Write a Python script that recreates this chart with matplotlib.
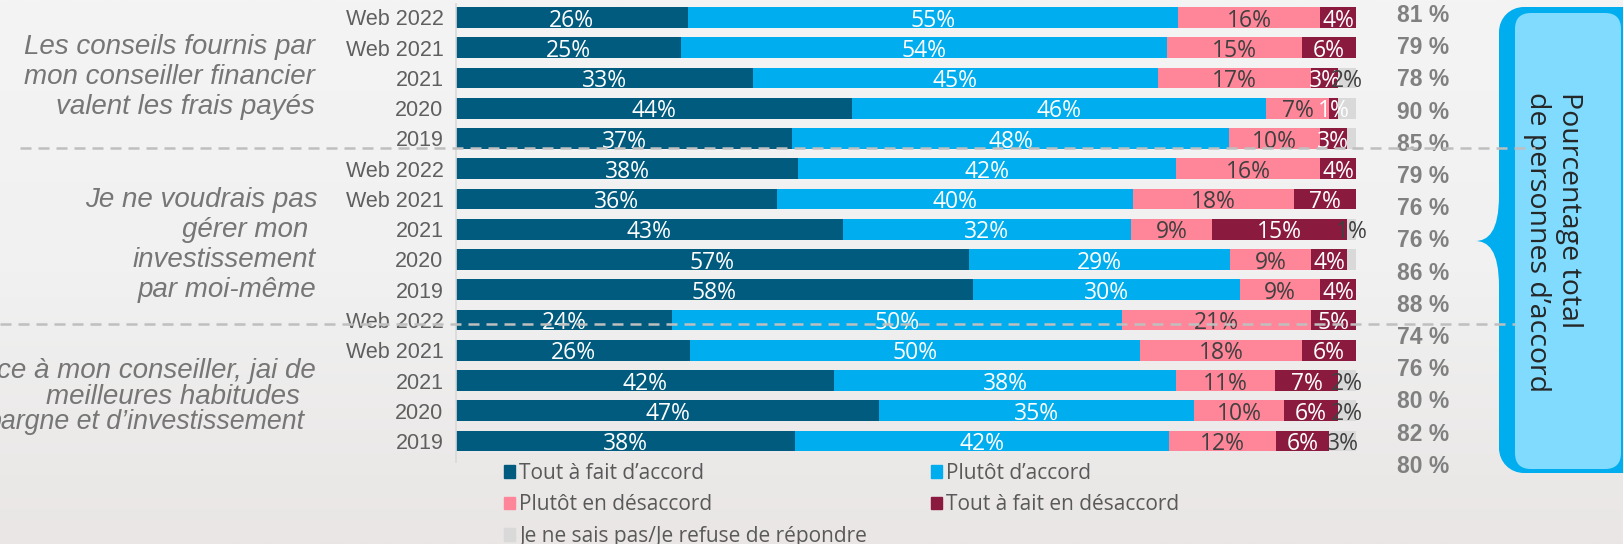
import numpy as np
import matplotlib
matplotlib.use("Agg")
import matplotlib.pyplot as plt
import matplotlib.transforms as mt
from matplotlib.path import Path
from matplotlib.patches import PathPatch, FancyBboxPatch, Patch
from matplotlib.lines import Line2D
from matplotlib.colors import LinearSegmentedColormap

# ---------------- data ----------------
periods = ["Web 2022", "Web 2021", "2021", "2020", "2019"] * 3
tout_accord = [26, 25, 33, 44, 37, 38, 36, 43, 57, 58, 24, 26, 42, 47, 38]
plutot_accord = [55, 54, 45, 46, 48, 42, 40, 32, 29, 30, 50, 50, 38, 35, 42]
plutot_desaccord = [16, 15, 17, 7, 10, 16, 18, 9, 9, 9, 21, 18, 11, 10, 12]
tout_desaccord = [4, 6, 3, 1, 3, 4, 7, 15, 4, 4, 5, 6, 7, 6, 6]
ne_sait_pas = [0, 0, 2, 2, 1, 0, 0, 1, 1, 0, 0, 0, 2, 2, 3]
nsp_label_shown = [False, False, True, False, False, False, False, True, False, False,
                   False, False, True, True, True]
totals = [81, 79, 78, 90, 85, 79, 76, 76, 86, 88, 74, 76, 80, 82, 80]

series_names = ["Tout à fait d’accord", "Plutôt d’accord", "Plutôt en désaccord",
                "Tout à fait en désaccord", "Je ne sais pas/Je refuse de répondre"]
series_colors = ["#005B7F", "#00AEEF", "#FF8599", "#8B1A3F", "#D9D9D9"]
label_colors = ["white", "white", "#404040", "white", "#404040"]

group_labels = [
    ["Les conseils fournis par", "mon conseiller financier", "valent les frais payés"],
    ["Je ne voudrais pas", "gérer mon ", "investissement", "par moi-même"],
    ["ce à mon conseiller, jai de", "meilleures habitudes", "pargne et d’investissement"],
]
callout_text = "Pourcentage total\nde personnes d’accord"

# ---------------- figure ----------------
W, H = 1624, 544
fig = plt.figure(figsize=(W / 100, H / 100), dpi=100)
px = mt.Affine2D().scale(1 / W, -1 / H).translate(0, 1) + fig.transFigure

# background gradient
bg = fig.add_axes([0, 0, 1, 1], zorder=-5)
cmap = LinearSegmentedColormap.from_list("bg", ["#f4f4f4", "#f1f1f1", "#e9e6e5"])
bg.imshow(np.linspace(0, 1, 256)[:, None], aspect="auto", cmap=cmap,
          extent=[0, 1, 0, 1])
bg.axis("off")

ax = fig.add_axes([456 / W, 1 - 462 / H, 900 / W, 458 / H])
ax.set_facecolor("none")

data = np.array([tout_accord, plutot_accord, plutot_desaccord, tout_desaccord,
                 ne_sait_pas], dtype=float)
norm = data / data.sum(axis=0) * 100
y = np.arange(len(periods))
left = np.zeros(len(periods))
for k in range(data.shape[0]):
    ax.barh(y, norm[k], left=left, height=0.69, color=series_colors[k],
            label=series_names[k], zorder=2)
    for i in range(len(periods)):
        v = data[k, i]
        if v <= 0:
            continue
        if k == 4 and not nsp_label_shown[i]:
            continue
        ax.text(left[i] + norm[k, i] / 2, y[i] + 0.1, f"{int(v)}%",
                ha="center", va="center", fontsize=16.5, family="Open Sans",
                color=label_colors[k], zorder=3)
    left += norm[k]

ax.set_xlim(0, 100)
ax.set_ylim(len(periods) - 1 + 0.694, -0.446)
ax.set_xticks([])
ax.set_yticks(y)
ax.set_yticklabels(periods, family="Liberation Sans", fontsize=15.5, color="#5f5f5f")
ax.tick_params(axis="y", length=0, pad=9)
for s in ["top", "right", "bottom"]:
    ax.spines[s].set_visible(False)
ax.spines["left"].set_color("#d9d9d9")
ax.spines["left"].set_linewidth(1.2)

# group labels (left): (right edge x, centre y, font size) in pixels
group_pos = [
    [(315, 47, 20), (315, 77, 20), (315, 107, 20)],
    [(318, 200, 20), (316, 230, 20), (316, 260, 20), (316, 290, 20)],
    [(316, 371, 20), (300, 397, 20), (305, 422, 19.3)],
]
for lines, pos in zip(group_labels, group_pos):
    for t, (xr, yy, fs) in zip(lines, pos):
        fig.text(xr, yy, t, transform=px, ha="right", va="center",
                 family="Liberation Sans", style="italic", fontsize=fs,
                 color="#767676")

# totals (right)
for i, t in enumerate(totals):
    fig.text(1397, 15.5 + i * 32.2, f"{t} %", transform=px, ha="left",
             va="center", family="Liberation Sans", weight="bold",
             fontsize=16.5, color="#808080")

# legend (two columns)
handles = [Patch(color=c) for c in series_colors]
leg_kw = dict(frameon=False, loc="upper left", borderpad=0, borderaxespad=0,
              handlelength=0.53, handleheight=0.53, handletextpad=0.2,
              labelspacing=0.5, prop={"family": "Open Sans", "size": 15},
              labelcolor="#595959")
leg1 = fig.legend([handles[0], handles[2], handles[4]],
                  [series_names[0], series_names[2], series_names[4]],
                  bbox_to_anchor=(504 / W, 1 - 463 / H), **leg_kw)
leg2 = fig.legend([handles[1], handles[3]], [series_names[1], series_names[3]],
                  bbox_to_anchor=(931 / W, 1 - 463 / H), **leg_kw)

# callout bracket shape
verts = [(1630, 7), (1524, 7), (1510, 7), (1499, 18), (1499, 32),
         (1499, 195), (1499, 232), (1488, 241), (1475, 241),
         (1488, 241), (1499, 250), (1499, 287),
         (1499, 448), (1499, 462), (1510, 473), (1524, 473),
         (1630, 473), (1630, 7)]
codes = [Path.MOVETO, Path.LINETO, Path.CURVE4, Path.CURVE4, Path.CURVE4,
         Path.LINETO, Path.CURVE4, Path.CURVE4, Path.CURVE4,
         Path.CURVE4, Path.CURVE4, Path.CURVE4,
         Path.LINETO, Path.CURVE4, Path.CURVE4, Path.CURVE4,
         Path.LINETO, Path.CLOSEPOLY]
outer = PathPatch(Path(verts, codes), transform=px, facecolor="#00AEEF",
                  edgecolor="none", zorder=3)
fig.add_artist(outer)
inner = FancyBboxPatch((1515, 13), 106, 456, boxstyle="round,pad=0,rounding_size=16",
                       transform=px, facecolor="#80DBFF", edgecolor="none", zorder=4)
fig.add_artist(inner)
fig.text(1553, 92, callout_text, transform=px, rotation=270, ha="center", va="top",
         multialignment="left", family="Open Sans", fontsize=20.5, color="#262626",
         linespacing=1.2, zorder=5)

# dashed separators
for (x0, x1, yy) in [(20, 1535, 147.5), (0, 1515, 323.5)]:
    fig.add_artist(Line2D([x0, x1], [yy, yy], transform=px, color="#bfbfbf",
                          lw=1.8, linestyle=(0, (4.4, 2.8)), zorder=6))

fig.savefig("out.png", dpi=100)
